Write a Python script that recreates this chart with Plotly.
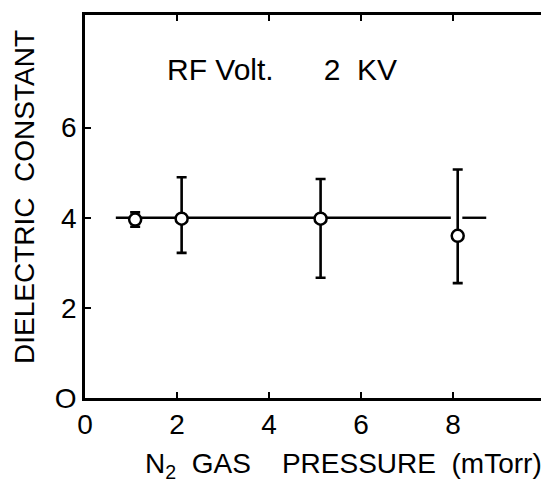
import plotly.graph_objects as go

# Data
pressure = [1.09, 2.1, 5.12, 8.1]
dielectric = [3.96, 3.98, 3.98, 3.6]
err_plus = [0.16, 0.92, 0.88, 1.47]
err_minus = [0.16, 0.76, 1.31, 1.05]

# Horizontal reference line (with a gap near the last point)
ref_x = [0.67, 7.95, None, 8.2, 8.72]
ref_y = [4.0, 4.0, None, 4.0, 4.0]

x_ticks = [0, 2, 4, 6, 8]
y_ticks = [0, 2, 4, 6]

FONT = "Liberation Sans"
NB = "\u00a0"

fig = go.Figure()
fig.add_trace(go.Scatter(x=ref_x, y=ref_y, mode="lines",
                         line=dict(color="black", width=2.4),
                         connectgaps=False, hoverinfo="skip", showlegend=False))
fig.add_trace(go.Scatter(
    x=pressure, y=dielectric, mode="markers",
    marker=dict(symbol="circle", size=12, color="white",
                line=dict(color="black", width=2.5)),
    error_y=dict(type="data", symmetric=False, array=err_plus,
                 arrayminus=err_minus, color="black", thickness=2.6, width=5),
    showlegend=False))

axis_common = dict(showgrid=False, zeroline=False, showline=True,
                   linecolor="black", linewidth=2.5, ticks="inside",
                   ticklen=6, tickwidth=2, tickcolor="black",
                   tickfont=dict(family=FONT, size=28, color="black"))

fig.update_xaxes(range=[0, 9.91], tickvals=x_ticks,
                 ticktext=[str(v) for v in x_ticks], mirror="ticks",
                 **axis_common)
fig.update_yaxes(range=[0, 8.5], tickvals=y_ticks,
                 ticktext=["O" if v == 0 else str(v) for v in y_ticks],
                 mirror=False, **axis_common)

fig.add_annotation(x=1.74, y=7.28, xref="x", yref="y", xanchor="left",
                   yanchor="middle", showarrow=False,
                   text="RF" + NB + "Volt." + NB * 6 + "2" + NB * 2 + "KV",
                   font=dict(family=FONT, size=30, color="black"))
fig.add_annotation(x=-0.1316, y=0.525, xref="paper", yref="paper",
                   xanchor="center", yanchor="middle", showarrow=False,
                   textangle=-90, text="DIELECTRIC" + NB * 2 + "CONSTANT",
                   font=dict(family=FONT, size=28, color="black"))
fig.add_annotation(x=0.127, y=-0.175, xref="paper", yref="paper",
                   xanchor="left", yanchor="middle", showarrow=False,
                   text="N<sub>2</sub>" + NB * 2 + "GAS" + NB * 4 + "PRESSURE"
                        + NB * 2 + "(mTorr)",
                   font=dict(family=FONT, size=28, color="black"))

fig.update_layout(width=541, height=490,
                  margin=dict(l=85, r=0, t=15, b=92),
                  paper_bgcolor="white", plot_bgcolor="white")

fig.write_html("out.html")
